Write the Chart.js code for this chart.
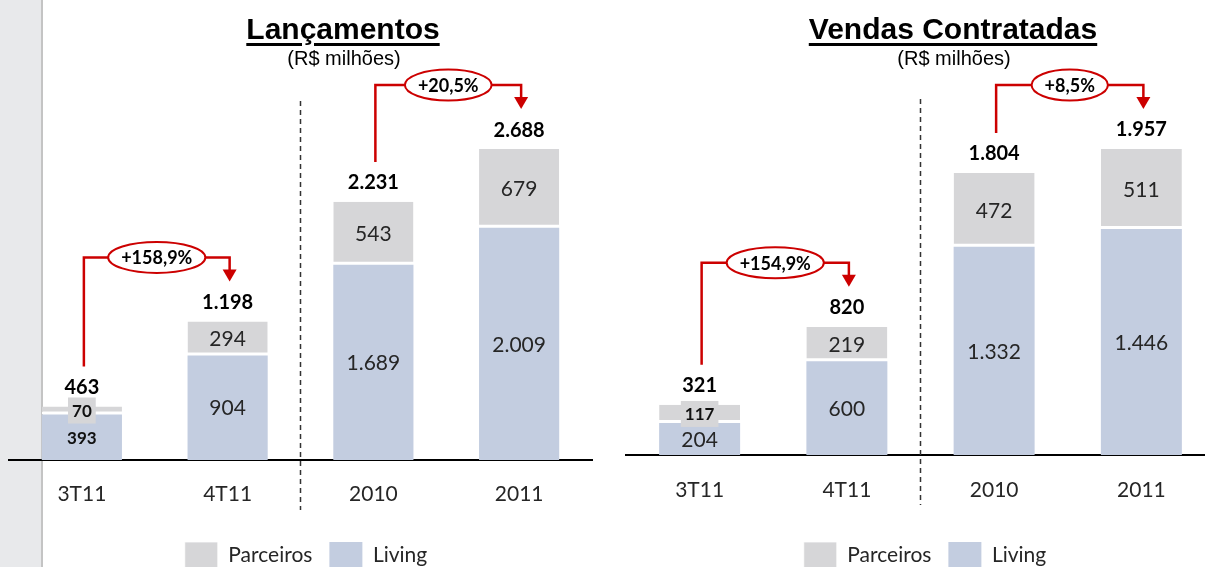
<!DOCTYPE html>
<html lang="pt-BR">
<head>
<meta charset="UTF-8">
<title>Lançamentos e Vendas Contratadas</title>
<style>
  body { margin: 0; width: 1205px; height: 567px; overflow: hidden; background: #fff; position: relative; }
  #strip { position: absolute; left: 0; top: 0; width: 41px; height: 567px; background: #e8e9eb; border-right: 2px solid #c4c4c4; }
  canvas { position: absolute; top: 0; }
  .title { position: absolute; top: 14px; transform: translateX(-50%); white-space: nowrap; color: #000;
           font: bold 30px "Liberation Sans", Arial, sans-serif; line-height: 30px;
           text-decoration: underline; text-decoration-thickness: 3px; text-underline-offset: 4px; }
  .sub { position: absolute; top: 47px; transform: translateX(-50%); white-space: nowrap; color: #000;
         font: 20px "Liberation Sans", Arial, sans-serif; line-height: 22px; }
</style>
</head>
<body>
<div id="strip"></div>
<canvas id="lanc" width="603" height="600" style="left:0"></canvas>
<canvas id="vendas" width="624" height="600" style="left:600px"></canvas>
<div class="title" style="left:343px">Lançamentos</div>
<div class="sub" style="left:344px">(R$ milhões)</div>
<div class="title" style="left:953px">Vendas Contratadas</div>
<div class="sub" style="left:954px">(R$ milhões)</div>

<script src="https://cdn.jsdelivr.net/npm/chart.js"></script>
<script>
  const categories = ['3T11', '4T11', '2010', '2011'];

  const lancLiving = [393, 904, 1689, 2009];
  const lancParceiros = [70, 294, 543, 679];
  const lancTotal = [463, 1198, 2231, 2688];
  const lancGrowth = ['+158,9%', '+20,5%'];   // 3T11 -> 4T11, 2010 -> 2011

  const vendasLiving = [204, 600, 1332, 1446];
  const vendasParceiros = [117, 219, 472, 511];
  const vendasTotal = [321, 820, 1804, 1957];
  const vendasGrowth = ['+154,9%', '+8,5%'];

  const FONT = 'Lato, "Open Sans", sans-serif';
  const RED = '#cc0000';

  // 2231 -> "2.231"
  function fmt(n) {
    return String(n).replace(/\B(?=(\d{3})+(?!\d))/g, '.');
  }

  // numbers inside the segments and totals on top
  const barText = {
    id: 'barText',
    afterDatasetsDraw(chart, args, o) {
      const ctx = chart.ctx;
      ctx.save();
      ctx.textAlign = 'center';
      ctx.textBaseline = 'middle';
      chart.data.datasets.forEach((ds, d) => {
        chart.getDatasetMeta(d).data.forEach((bar, i) => {
          const h = bar.base - bar.y;
          const cy = (bar.y + bar.base) / 2;
          const txt = fmt(ds.data[i]);
          if (h < 30) {
            // tiny segment: bold label on a grey patch
            ctx.font = 'bold 17px ' + FONT;
            const w = ctx.measureText(txt).width + 8;
            ctx.fillStyle = '#d6d6d8';
            ctx.fillRect(bar.x - w / 2, cy - 13, w, 26);
            ctx.fillStyle = '#111';
          } else if (o.firstBold && i === 0) {
            ctx.font = 'bold 17px ' + FONT;
            ctx.fillStyle = '#111';
          } else {
            ctx.font = '21px ' + FONT;
            ctx.fillStyle = '#262626';
          }
          ctx.fillText(txt, bar.x, cy + 1);
        });
      });
      const y = chart.scales.y;
      const xs = chart.getDatasetMeta(0).data;
      ctx.font = 'bold 20px ' + FONT;
      ctx.fillStyle = '#000';
      o.totals.forEach((t, i) => {
        ctx.fillText(fmt(t), xs[i].x, y.getPixelForValue(t) - 19);
      });
      ctx.restore();
    }
  };

  // dashed separator between quarters and years
  const divider = {
    id: 'divider',
    afterDraw(chart) {
      const {ctx, chartArea} = chart;
      const x = chart.scales.x;
      const px = (x.getPixelForValue(1) + x.getPixelForValue(2)) / 2;
      ctx.save();
      ctx.strokeStyle = '#333';
      ctx.lineWidth = 1.5;
      ctx.setLineDash([5, 4]);
      ctx.beginPath();
      ctx.moveTo(px, chartArea.top - 12);
      ctx.lineTo(px, chartArea.bottom + 50);
      ctx.stroke();
      ctx.restore();
    }
  };

  // red elbow arrows with the growth rate in an ellipse
  const growthArrows = {
    id: 'growthArrows',
    afterDraw(chart, args, o) {
      const ctx = chart.ctx;
      const y = chart.scales.y;
      const bars = chart.getDatasetMeta(0).data;
      ctx.save();
      o.texts.forEach((txt, k) => {
        const a = 2 * k, b = 2 * k + 1;
        const x1 = bars[a].x + 2, x2 = bars[b].x + 2;
        const top1 = y.getPixelForValue(o.totals[a]);
        const top2 = y.getPixelForValue(o.totals[b]);
        const hy = top2 - 64;
        const tip = top2 - 40;
        ctx.strokeStyle = RED;
        ctx.fillStyle = RED;
        ctx.lineWidth = 2.5;
        ctx.beginPath();
        ctx.moveTo(x1, top1 - 40);
        ctx.lineTo(x1, hy);
        ctx.lineTo(x2, hy);
        ctx.lineTo(x2, tip - 10);
        ctx.stroke();
        ctx.beginPath();
        ctx.moveTo(x2 - 7, tip - 12);
        ctx.lineTo(x2 + 7, tip - 12);
        ctx.lineTo(x2, tip);
        ctx.closePath();
        ctx.fill();

        ctx.font = 'bold 18px ' + FONT;
        const tw = ctx.measureText(txt).width;
        const cx = (x1 + x2) / 2;
        ctx.beginPath();
        ctx.ellipse(cx, hy, tw / 2 + 13, 15.5, 0, 0, Math.PI * 2);
        ctx.fillStyle = '#fff';
        ctx.fill();
        ctx.lineWidth = 2;
        ctx.stroke();
        ctx.fillStyle = '#000';
        ctx.textAlign = 'center';
        ctx.textBaseline = 'middle';
        ctx.fillText(txt, cx, hy + 1);
      });
      ctx.restore();
    }
  };

  function makeChart(id, living, parceiros, totals, growth, o) {
    return new Chart(document.getElementById(id), {
      type: 'bar',
      data: {
        labels: categories,
        datasets: [
          { label: 'Living', data: living, backgroundColor: '#c3cde0', borderWidth: 0 },
          { label: 'Parceiros', data: parceiros, backgroundColor: '#d6d6d8', borderColor: '#fff',
            borderWidth: { top: 0, left: 0, right: 0, bottom: 3 }, borderSkipped: false }
        ]
      },
      options: {
        responsive: false,
        animation: false,
        layout: { padding: { top: o.padTop, left: o.padLeft, right: 0, bottom: 22 } },
        datasets: { bar: { categoryPercentage: 1, barPercentage: 0.55 } },
        scales: {
          x: {
            stacked: true,
            grid: { display: false, drawTicks: false },
            border: { display: true, color: '#000', width: 2 },
            ticks: { color: '#262626', font: { family: FONT, size: 21 }, padding: o.tickPad },
            afterFit(s) { s.height = o.axisH; }
          },
          y: {
            stacked: true,
            position: 'right',
            min: 0,
            max: o.yMax,
            ticks: { display: false },
            grid: { display: false, drawTicks: false },
            border: { display: false },
            afterFit(s) { s.width = o.padRight; }
          }
        },
        plugins: {
          legend: {
            position: 'bottom',
            reverse: true,
            labels: { boxWidth: 33, boxHeight: 26, padding: 17, color: '#262626', font: { family: FONT, size: 21 } }
          },
          tooltip: { enabled: false },
          barText: { totals: totals, firstBold: o.firstBold },
          growthArrows: { totals: totals, texts: growth }
        }
      },
      plugins: [barText, divider, growthArrows]
    });
  }

  makeChart('lanc', lancLiving, lancParceiros, lancTotal, lancGrowth,
    { padTop: 113, padLeft: 9, padRight: 11, yMax: 3000, axisH: 65, tickPad: 22, firstBold: true });
  makeChart('vendas', vendasLiving, vendasParceiros, vendasTotal, vendasGrowth,
    { padTop: 111, padLeft: 26, padRight: 9, yMax: 2200, axisH: 70, tickPad: 23, firstBold: false });
</script>
</body>
</html>
